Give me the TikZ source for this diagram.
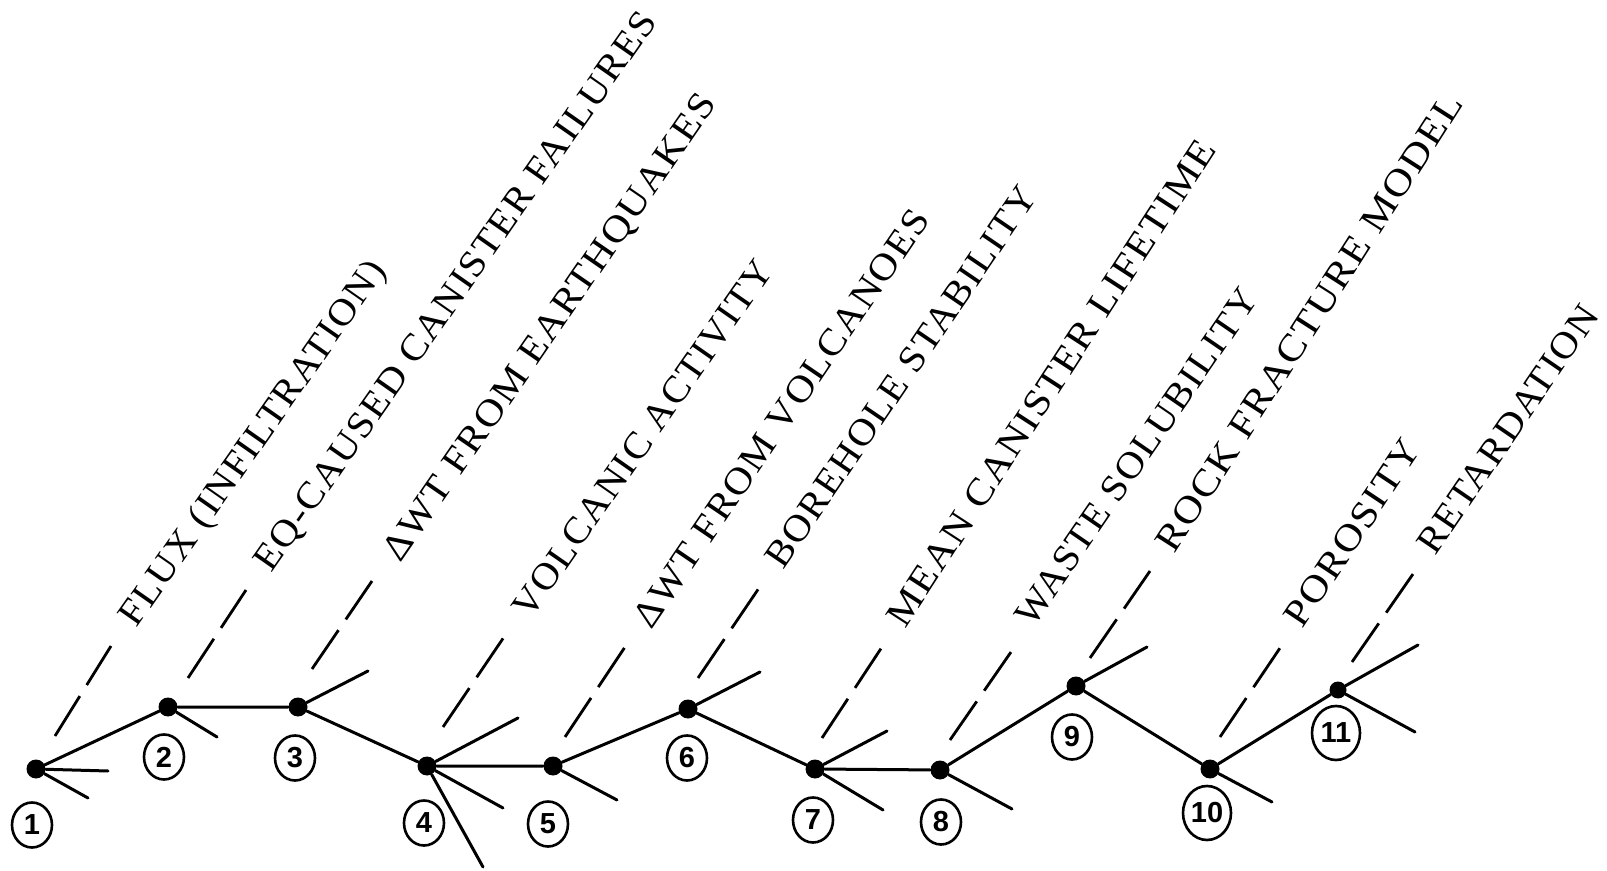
\documentclass[tikz,border=0pt]{standalone}
\usepackage{fontspec}
\setmainfont{Liberation Serif}
\newfontfamily\labelfont[LetterSpace=4]{Liberation Serif}
\newfontfamily\numfont{Liberation Sans}
\usetikzlibrary{shapes.geometric}
% stretch a factor name to a given length (in pt) along its baseline
\newcommand\fitname[2]{\resizebox{#1pt}{\height}{#2}}
\begin{document}
\begin{tikzpicture}[x=0.5pt,y=-0.5pt,
  link/.style={line width=1.5pt, line cap=round},
  leader/.style={line width=1.4pt, dash pattern=on 23.5pt off 6.5pt},
  dot/.style={circle, fill=black, inner sep=0pt, minimum size=9.5pt},
  tag/.style={ellipse, draw, line width=1.3pt, inner sep=0pt,
    minimum width=20pt, minimum height=22.5pt,
    font=\numfont\bfseries\fontsize{14.5}{14.5}\selectfont},
  widetag/.style={tag, minimum width=24pt, minimum height=27pt},
  factor/.style={inner sep=0pt, anchor=west, text height=12.4pt, text depth=0pt,
    font=\labelfont\fontsize{18.8}{21}\selectfont}]
\useasboundingbox (0,0) rectangle (1607,871);

% decision points
\node[dot] (n1)  at (36,769) {};
\node[dot] (n2)  at (168,707) {};
\node[dot] (n3)  at (298,707) {};
\node[dot] (n4)  at (427,766) {};
\node[dot] (n5)  at (553,766) {};
\node[dot] (n6)  at (688,709) {};
\node[dot] (n7)  at (815,769) {};
\node[dot] (n8)  at (940,770) {};
\node[dot] (n9)  at (1076,686) {};
\node[dot] (n10) at (1210,769) {};
\node[dot, minimum size=8.5pt] (n11) at (1338,690) {};

% circled numbers
\node[tag] (c1) at (32,825) {1};
\node[tag] (c2) at (164,757) {2};
\node[tag] (c3) at (295,758) {3};
\node[tag] (c4) at (424,823) {4};
\node[tag] (c5) at (548,824) {5};
\node[tag] (c6) at (687,758) {6};
\node[tag] (c7) at (813,820) {7};
\node[tag] (c8) at (941,822) {8};
\node[tag] (c9) at (1072,737) {9};
\node[widetag] (c10) at (1207,813) {10};
\node[widetag] (c11) at (1336,733) {11};

% main path through the tree
\draw[link] (n1) -- (n2) -- (n3) -- (n4) -- (n5) -- (n6) -- (n7) -- (n8) -- (n9) -- (n10) -- (n11);

% open branches
\coordinate (s1a) at (108,771);  \coordinate (s1b) at (88,798);
\coordinate (s2a) at (217,737);
\coordinate (s3a) at (368,671);
\coordinate (s4a) at (518,718);  \coordinate (s4b) at (503,808);  \coordinate (s4c) at (483,867);
\coordinate (s5a) at (617,800);
\coordinate (s6a) at (760,672);
\coordinate (s7a) at (887,731);  \coordinate (s7b) at (883,810);
\coordinate (s8a) at (1012,809);
\coordinate (s9a) at (1147,647);
\coordinate (s10a) at (1272,802);
\coordinate (s11a) at (1418,645); \coordinate (s11b) at (1415,732);
\draw[link] (n1) -- (s1a);  \draw[link] (n1) -- (s1b);
\draw[link] (n2) -- (s2a);
\draw[link] (n3) -- (s3a);
\draw[link] (n4) -- (s4a);  \draw[link] (n4) -- (s4b);  \draw[link] (n4) -- (s4c);
\draw[link] (n5) -- (s5a);
\draw[link] (n6) -- (s6a);
\draw[link] (n7) -- (s7a);  \draw[link] (n7) -- (s7b);
\draw[link] (n8) -- (s8a);
\draw[link] (n9) -- (s9a);
\draw[link] (n10) -- (s10a);
\draw[link] (n11) -- (s11a); \draw[link] (n11) -- (s11b);

% dashed leaders up to the factor names
\coordinate (l1a) at (55,736);    \coordinate (l1b) at (111,646);
\coordinate (l2a) at (188,678);   \coordinate (l2b) at (246,590);
\coordinate (l3a) at (312,669);   \coordinate (l3b) at (372,581);
\coordinate (l4a) at (443,727);   \coordinate (l4b) at (504,637);
\coordinate (l5a) at (565,737);   \coordinate (l5b) at (625,647);
\coordinate (l6a) at (698,678);   \coordinate (l6b) at (759,588);
\coordinate (l7a) at (822,738);   \coordinate (l7b) at (882,647);
\coordinate (l8a) at (950,740);   \coordinate (l8b) at (1011,652);
\coordinate (l9a) at (1090,658);  \coordinate (l9b) at (1150,571);
\coordinate (l10a) at (1220,737); \coordinate (l10b) at (1280,648);
\coordinate (l11a) at (1352,662); \coordinate (l11b) at (1413,574);
\foreach \i in {1,...,11} {\draw[leader] (l\i a) -- (l\i b);}

% factor names
\node[factor, rotate=55.0] (f1)  at (126,622)  {\fitname{218.5}{FLUX (INFILTRATION)}};
\node[factor, rotate=55.0] (f2)  at (261,567)  {\fitname{337}{EQ-CAUSED CANISTER FAILURES}};
\node[factor, rotate=55.4] (f3)  at (390,557)  {\fitname{279.5}{ΔWT FROM EARTHQUAKES}};
\node[factor, rotate=55.1] (f4)  at (520,614)  {\fitname{213.5}{VOLCANIC ACTIVITY}};
\node[factor, rotate=55.8] (f5)  at (641,624)  {\fitname{248.5}{ΔWT FROM VOLCANOES}};
\node[factor, rotate=55.7] (f6)  at (773,564)  {\fitname{226.5}{BOREHOLE STABILITY}};
\node[factor, rotate=57.0] (f7)  at (895,623)  {\fitname{286}{MEAN CANISTER LIFETIME}};
\node[factor, rotate=55.5] (f8)  at (1023,622) {\fitname{200}{WASTE SOLUBILITY}};
\node[factor, rotate=57.3] (f9)  at (1164,548) {\fitname{268}{ROCK FRACTURE MODEL}};
\node[factor, rotate=56.3] (f10) at (1292,623) {\fitname{108}{POROSITY}};
\node[factor, rotate=55.6] (f11) at (1425,550) {\fitname{146}{RETARDATION}};
\end{tikzpicture}
\end{document}
